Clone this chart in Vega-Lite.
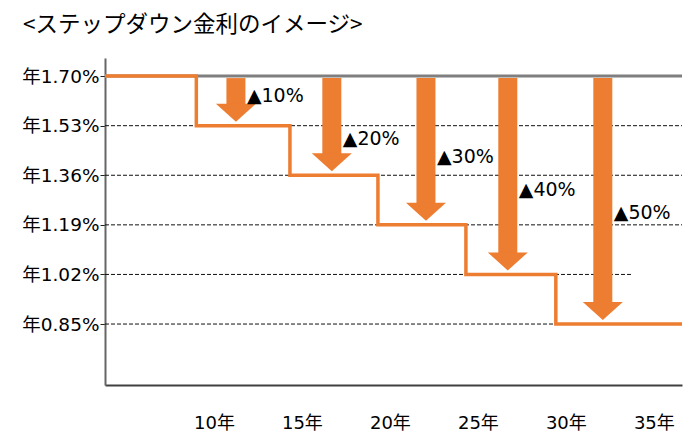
{
  "$schema": "https://vega.github.io/schema/vega-lite/v6.json",
  "width": 577,
  "height": 327,
  "autosize": {"type": "none"},
  "padding": {"left": 105, "top": 58, "right": 18, "bottom": 61},
  "background": "white",
  "title": {
    "text": "<ステップダウン金利のイメージ>",
    "anchor": "start",
    "frame": "group",
    "dx": -82,
    "offset": 20,
    "dy": 21,
    "baseline": "bottom",
    "font": "Noto Sans CJK JP",
    "fontSize": 22.5,
    "fontWeight": "normal",
    "color": "#000000"
  },
  "config": {"view": {"stroke": null}, "font": "DejaVu Sans, Noto Sans CJK JP"},
  "datasets": {
    "grid": [
      {"y": 1.53, "x1": 3.81, "x2": 36.6},
      {"y": 1.36, "x1": 3.81, "x2": 36.6},
      {"y": 1.19, "x1": 3.81, "x2": 36.6},
      {"y": 1.02, "x1": 3.81, "x2": 33.7},
      {"y": 0.85, "x1": 3.81, "x2": 36.6}
    ],
    "topline": [{"y": 1.7, "x1": 3.81, "x2": 36.6}],
    "rate": [
      {"year": 3.81, "rate": 1.70},
      {"year": 9.0, "rate": 1.53},
      {"year": 14.32, "rate": 1.36},
      {"year": 19.32, "rate": 1.19},
      {"year": 24.32, "rate": 1.02},
      {"year": 29.43, "rate": 0.85},
      {"year": 36.6, "rate": 0.85}
    ],
    "arrows": [
      {"x": 11.25, "level": 1.53, "labelY": 1.631, "label": "▲10%"},
      {"x": 16.7, "level": 1.36, "labelY": 1.484, "label": "▲20%"},
      {"x": 22.05, "level": 1.19, "labelY": 1.422, "label": "▲30%"},
      {"x": 26.7, "level": 1.02, "labelY": 1.309, "label": "▲40%"},
      {"x": 32.1, "level": 0.85, "labelY": 1.23, "label": "▲50%"}
    ]
  },
  "layer": [
    {
      "data": {"name": "rate"},
      "mark": {"type": "line", "interpolate": "step-after", "color": "#ED7D31", "strokeWidth": 3.5, "opacity": 0},
      "encoding": {
        "x": {
          "field": "year", "type": "quantitative", "title": null,
          "scale": {"domain": [3.81, 36.6], "nice": false, "zero": false},
          "axis": {
            "values": [10, 15, 20, 25, 30, 35],
            "labelExpr": "datum.value + '年'",
            "title": null, "grid": false, "ticks": false, "tickSize": 0,
            "labelPadding": 29, "labelFlush": false,
            "domainColor": "#404040", "domainWidth": 2,
            "labelFontSize": 18, "labelColor": "#000000",
            "labelFont": "DejaVu Sans, Noto Sans CJK JP"
          }
        },
        "y": {
          "field": "rate", "type": "quantitative", "title": null,
          "scale": {"domain": [0.641, 1.762], "nice": false, "zero": false},
          "axis": {
            "values": [0.85, 1.02, 1.19, 1.36, 1.53, 1.7],
            "labelExpr": "'年' + format(datum.value, '.2f') + '%'",
            "title": null, "grid": false, "ticks": true, "tickSize": 5,
            "tickColor": "#222222", "tickWidth": 1,
            "labelPadding": 1, "labelFlush": false,
            "domainColor": "#666666", "domainWidth": 2,
            "labelFontSize": 18.5, "labelColor": "#000000",
            "labelFont": "DejaVu Sans, Noto Sans CJK JP"
          }
        }
      }
    },
    {
      "data": {"name": "grid"},
      "mark": {"type": "rule", "strokeDash": [4, 2], "color": "#111111", "strokeWidth": 1},
      "encoding": {
        "x": {"field": "x1", "type": "quantitative", "title": null},
        "x2": {"field": "x2"},
        "y": {"field": "y", "type": "quantitative", "title": null}
      }
    },
    {
      "data": {"name": "arrows"},
      "mark": {"type": "rule", "color": "#ED7D31", "strokeWidth": 19, "yOffset": -20, "y2Offset": 2},
      "encoding": {
        "x": {"field": "x", "type": "quantitative", "title": null},
        "y": {"field": "level", "type": "quantitative", "title": null},
        "y2": {"datum": 1.7}
      }
    },
    {
      "data": {"name": "arrows"},
      "mark": {"type": "point", "shape": "M-1,-1.1L1,-1.1L0,-0.2Z", "size": 1600, "filled": true, "opacity": 1, "color": "#ED7D31", "strokeWidth": 0},
      "encoding": {
        "x": {"field": "x", "type": "quantitative", "title": null},
        "y": {"field": "level", "type": "quantitative", "title": null}
      }
    },
    {
      "data": {"name": "topline"},
      "mark": {"type": "rule", "color": "#7F7F7F", "strokeWidth": 3},
      "encoding": {
        "x": {"field": "x1", "type": "quantitative", "title": null},
        "x2": {"field": "x2"},
        "y": {"field": "y", "type": "quantitative", "title": null}
      }
    },
    {
      "data": {"name": "rate"},
      "mark": {"type": "line", "interpolate": "step-after", "color": "#ED7D31", "strokeWidth": 3.5},
      "encoding": {
        "x": {"field": "year", "type": "quantitative", "title": null},
        "y": {"field": "rate", "type": "quantitative", "title": null}
      }
    },
    {
      "data": {"name": "arrows"},
      "mark": {"type": "text", "align": "left", "baseline": "middle", "dx": 11, "fontSize": 19, "color": "#000000", "font": "DejaVu Sans, Noto Sans CJK JP"},
      "encoding": {
        "x": {"field": "x", "type": "quantitative", "title": null},
        "y": {"field": "labelY", "type": "quantitative", "title": null},
        "text": {"field": "label"}
      }
    }
  ]
}
